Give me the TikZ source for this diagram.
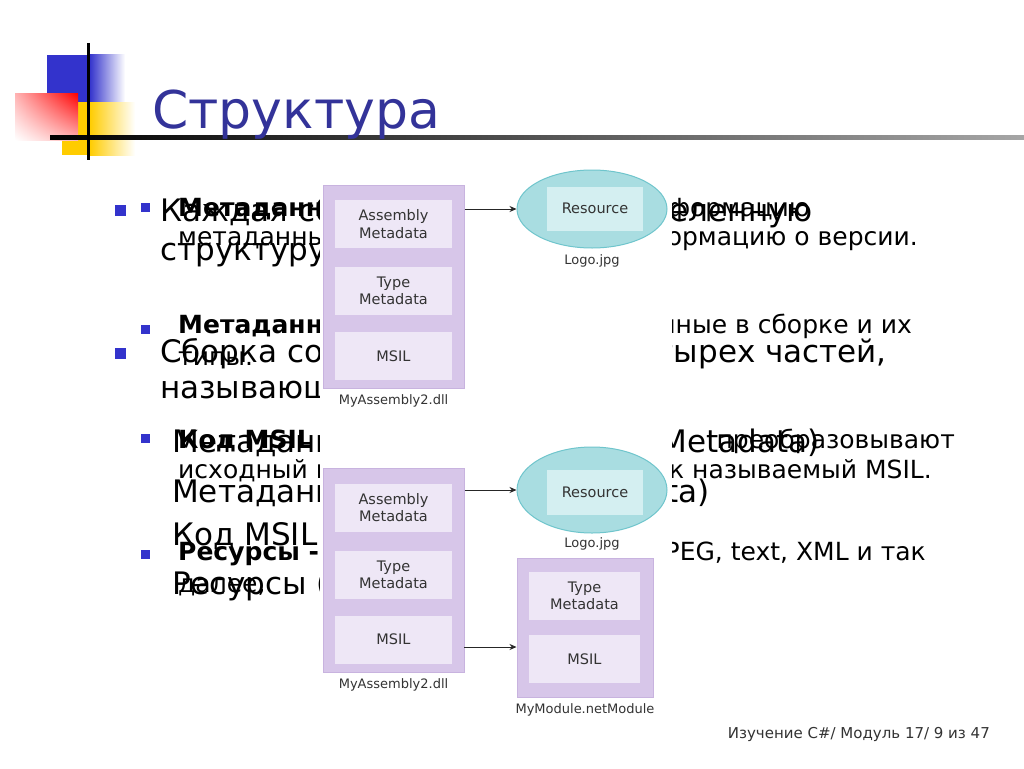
\documentclass[tikz,border=0pt]{standalone}
\usepackage{fontspec}
\setmainfont{DejaVu Sans}
\usepackage{xcolor}
\usetikzlibrary{positioning,shapes.geometric,arrows.meta,shadings}

\definecolor{titleblue}{HTML}{333399}
\definecolor{bulletblue}{HTML}{3333CC}
\definecolor{deckyellow}{HTML}{FFCC00}
\definecolor{asmouter}{HTML}{D7C6E9}
\definecolor{asmedge}{HTML}{C8B3DF}
\definecolor{asminner}{HTML}{EEE7F6}
\definecolor{resfill}{HTML}{A9DDE1}
\definecolor{resedge}{HTML}{6FC5CC}
\definecolor{resinner}{HTML}{D4EFF1}
\definecolor{capgray}{HTML}{333333}

\newcommand{\bigtxt}{\fontsize{31}{37}\selectfont}
\newcommand{\smalltxt}{\fontsize{25}{30}\selectfont}
\newcommand{\boxtxt}{\fontsize{14.5}{17.5}\selectfont}
\newcommand{\captxt}{\fontsize{13}{15}\selectfont}

\tikzset{
  bigl/.style={anchor=base west, inner sep=0pt, font=\bigtxt},
  bigr/.style={anchor=base east, inner sep=0pt, font=\bigtxt},
  sml/.style={anchor=base west, inner sep=0pt, font=\smalltxt},
  smb/.style={anchor=base west, inner sep=0pt, font=\smalltxt\bfseries},
  smr/.style={anchor=base east, inner sep=0pt, font=\smalltxt},
  sqbullet/.style={rectangle, fill=bulletblue, inner sep=0pt, minimum size=#1},
  asmbox/.style={rectangle, fill=asmouter, draw=asmedge, line width=1pt},
  partbox/.style={rectangle, fill=asminner, inner sep=0pt, align=center,
    font=\boxtxt, text=capgray, minimum width=117pt, minimum height=48pt},
  resell/.style={ellipse, fill=resfill, draw=resedge, line width=1pt,
    minimum width=150pt, inner sep=0pt},
  resbox/.style={rectangle, fill=resinner, inner sep=0pt, font=\boxtxt,
    text=capgray, minimum width=96pt, minimum height=44pt},
  caption/.style={font=\captxt, text=capgray, inner sep=0pt},
  conn/.style={-{Stealth[length=7pt,width=6pt]}, line width=0.8pt, black!85}
}

\begin{document}
\begin{tikzpicture}[x=1pt,y=-1pt]
\useasboundingbox[fill=white] (0,0) rectangle (1024,768);

% title decoration
\fill[bulletblue] (47,55) rectangle (90,102);
\shade[left color=bulletblue, right color=white] (89.5,55) rectangle (125,102);
\fill[deckyellow] (62,102) rectangle (90,155);
\shade[left color=deckyellow, right color=white] (89.5,102) rectangle (135,155);
\shade[upper right=red, upper left=red!30, lower left=white, lower right=red!30] (15,93) rectangle (78,140);
\shade[left color=black, right color=black!35] (50,135) rectangle (1024,139);
\draw[line width=3pt] (88,43) -- (88,160);

\node[anchor=base west, inner sep=0pt, font=\fontsize{52}{60}\selectfont, text=titleblue] (title) at (152,128) {Структура};

% large text
\node[sqbullet=11pt] (bk) at (120,210) {};
\node[sqbullet=11pt] (bc) at (120,353) {};
\node[bigl] (k1) at (160,221) {Каждая сборка};
\node[bigr] (k1r) at (813,221) {определенную};
\node[bigl] (k2) at (160,260) {структуру.};
\node[bigl] (c1) at (160,362) {Сборка состоит};
\node[bigr] (c1r) at (887,362) {четырех частей,};
\node[bigl] (c2) at (160,398) {называющихся:};
\node[bigl] (p1) at (172,452) {Метаданные сборки};
\node[bigr] (p1r) at (820,452) {(Assembly Metadata)};
\node[bigl] (p2) at (172,502) {Метаданные типов};
\node[bigr] (p2r) at (710,502) {(Type Metadata)};
\node[bigl] (p3) at (172,545) {Код MSIL};
\node[bigl] (p4) at (172,594) {Ресурсы (Resources)};

% small text
\node[sqbullet=9pt] (bm) at (145,207) {};
\node[sqbullet=9pt] (bt) at (145,329) {};
\node[sqbullet=9pt] (bi) at (145,438) {};
\node[sqbullet=9pt] (br) at (145,554) {};
\node[smb] (m1) at (178,216) {Метаданные сборки};
\node[smr] (m1r) at (810,216) {информацию};
\node[sml] (m2) at (178,245) {метаданных};
\node[smr] (m2r) at (918,245) {информацию о версии.};
\node[smb] (t1) at (178,333) {Метаданные типов};
\node[smr] (t1r) at (912,333) {данные в сборке и их};
\node[sml] (t2) at (178,365) {типы.};
\node[smb] (i1) at (178,448) {Код MSIL -};
\node[smr] (i1r) at (955,448) {преобразовывают};
\node[sml] (i2) at (178,478) {исходный код};
\node[smr] (i2r) at (932,478) {так называемый MSIL.};
\node[smb] (r1) at (178,560) {Ресурсы -};
\node[smr] (r1r) at (926,560) {JPEG, text, XML и так};
\node[sml] (r2) at (178,592) {далее,};

% pictures
\fill[white] (320,163) rectangle (672,413);
\fill[white] (320,420) rectangle (672,722);

% upper picture
\node[asmbox, minimum width=141pt, minimum height=203pt] (asm1) at (393.5,286.5) {};
\node[partbox] (asm1a) at (393.5,224) {Assembly\\Metadata};
\node[partbox] (asm1t) at (393.5,291) {Type\\Metadata};
\node[partbox] (asm1m) at (393.5,356) {MSIL};
\node[caption, below=6pt of asm1] (asm1c) {MyAssembly2.dll};
\node[resell, minimum height=78pt] (res1) at (592,209) {};
\node[resbox] (res1b) at (595,208.5) {Resource};
\node[caption, below=6pt of res1] (res1c) {Logo.jpg};
\draw[conn] (res1.west -| asm1.east) -- (res1.west);

% lower picture
\node[asmbox, minimum width=141pt, minimum height=204pt] (asm2) at (393.5,570) {};
\node[partbox] (asm2a) at (393.5,507.5) {Assembly\\Metadata};
\node[partbox] (asm2t) at (393.5,575) {Type\\Metadata};
\node[partbox] (asm2m) at (393.5,639.5) {MSIL};
\node[caption, below=6pt of asm2] (asm2c) {MyAssembly2.dll};
\node[resell, minimum height=86pt] (res2) at (592,490) {};
\node[resbox, minimum height=45pt] (res2b) at (595,492.5) {Resource};
\node[caption, below=4pt of res2] (res2c) {Logo.jpg};
\node[asmbox, minimum width=136pt, minimum height=139pt] (mod) at (585,627.5) {};
\node[partbox, minimum width=111pt] (modt) at (584.5,596) {Type\\Metadata};
\node[partbox, minimum width=111pt] (modm) at (584.5,659) {MSIL};
\node[caption, below=6pt of mod] (modc) {MyModule.netModule};
\draw[conn] (res2.west -| asm2.east) -- (res2.west);
\coordinate (m2) at (464,647);
\draw[conn] (m2) -- (m2 -| mod.west);

% footer
\node[anchor=base east, inner sep=0pt, font=\fontsize{15}{18}\selectfont, text=capgray] (foot) at (990,738) {Изучение C\#/ Модуль 17/ 9 из 47};
\end{tikzpicture}
\end{document}
